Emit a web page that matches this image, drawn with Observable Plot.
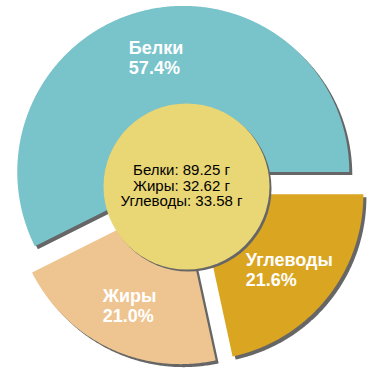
<!DOCTYPE html>
<html>
<head>
<meta charset="utf-8">
<script src="https://cdn.jsdelivr.net/npm/d3@7"></script>
<script src="https://cdn.jsdelivr.net/npm/@observablehq/plot@0.6"></script>
<style>
  html, body { margin: 0; padding: 0; background: #fff; }
</style>
</head>
<body>
<div id="chart"></div>
<script>
// Data
const categories = ["Белки", "Жиры", "Углеводы"];
const grams = [89.25, 32.62, 33.58];
const percents = [57.4, 21.0, 21.6];
const colors = ["#79c3cb", "#eec591", "#daa520"];
const pieOrder = ["Белки", "Углеводы", "Жиры"]; // clockwise order
const centerColor = "#e9d675";
const shadowColor = "#666666";

// Layout
const W = 370, H = 370;
const cx = 186, cy = 185, R = 166, explode = 14, labelR = 118, innerR = 83;
const fontFamily = "'Liberation Sans', Arial, sans-serif";

const slicesData = pieOrder.map(name => {
  const i = categories.indexOf(name);
  return {name, value: percents[i], color: colors[i], grams: grams[i]};
});
const total = d3.sum(slicesData, d => d.value);
const startA = Math.PI / 2 - 2 * Math.PI * slicesData[0].value / total;
const arcs = d3.pie().sort(null).value(d => d.value)
  .startAngle(startA).endAngle(startA + 2 * Math.PI)(slicesData);

const canvas = document.createElement("canvas");
const ctx = canvas.getContext("2d");
ctx.font = `bold 18px ${fontFamily}`;

const marks = [];
const polys = [];
const labels = [];
for (const a of arcs) {
  const m = (a.startAngle + a.endAngle) / 2;
  const ox = cx + explode * Math.sin(m), oy = cy - explode * Math.cos(m);
  const pts = [{x: ox, y: oy}];
  const n = Math.max(2, Math.ceil((a.endAngle - a.startAngle) / (Math.PI / 360)));
  for (let k = 0; k <= n; k++) {
    const t = a.startAngle + (a.endAngle - a.startAngle) * k / n;
    pts.push({x: ox + R * Math.sin(t), y: oy - R * Math.cos(t)});
  }
  polys.push({pts, color: a.data.color});
  const lines = [a.data.name, a.data.value.toFixed(1) + "%"];
  const w = d3.max(lines, s => ctx.measureText(s).width);
  labels.push({
    x: ox + labelR * Math.sin(m) - w / 2,
    y: oy - labelR * Math.cos(m) + 1,
    text: lines.join("\n")
  });
}

for (const p of polys) {
  marks.push(Plot.line(p.pts, {x: "x", y: "y", fill: shadowColor, stroke: "none", curve: "linear-closed", dx: 3, dy: 3}));
}
for (const p of polys) {
  marks.push(Plot.line(p.pts, {x: "x", y: "y", fill: p.color, stroke: "none", curve: "linear-closed"}));
}
marks.push(Plot.dot([{x: cx, y: cy + 1}], {x: "x", y: "y", r: innerR, fill: shadowColor, stroke: "none", dx: 2, dy: 2}));
marks.push(Plot.dot([{x: cx, y: cy + 1}], {x: "x", y: "y", r: innerR, fill: centerColor, stroke: "none"}));

marks.push(Plot.text(labels, {
  x: "x", y: "y", text: "text", fill: "white", fontSize: 18, fontWeight: "bold",
  textAnchor: "start", lineAnchor: "middle", lineHeight: 1.1
}));

const centerText = categories.map((c, i) => `${c}: ${grams[i].toFixed(2)} г`).join("\n");
marks.push(Plot.text([{x: cx - 5, y: cy, text: centerText}], {
  x: "x", y: "y", text: "text", fill: "black", fontSize: 15,
  textAnchor: "middle", lineAnchor: "middle", lineHeight: 1.04
}));

const chart = Plot.plot({
  width: W, height: H,
  margin: 0,
  x: {domain: [0, W], range: [0, W], axis: null},
  y: {domain: [0, H], range: [0, H], axis: null},
  style: {fontFamily, background: "white", overflow: "visible"},
  marks
});
document.getElementById("chart").appendChild(chart);
</script>
</body>
</html>
